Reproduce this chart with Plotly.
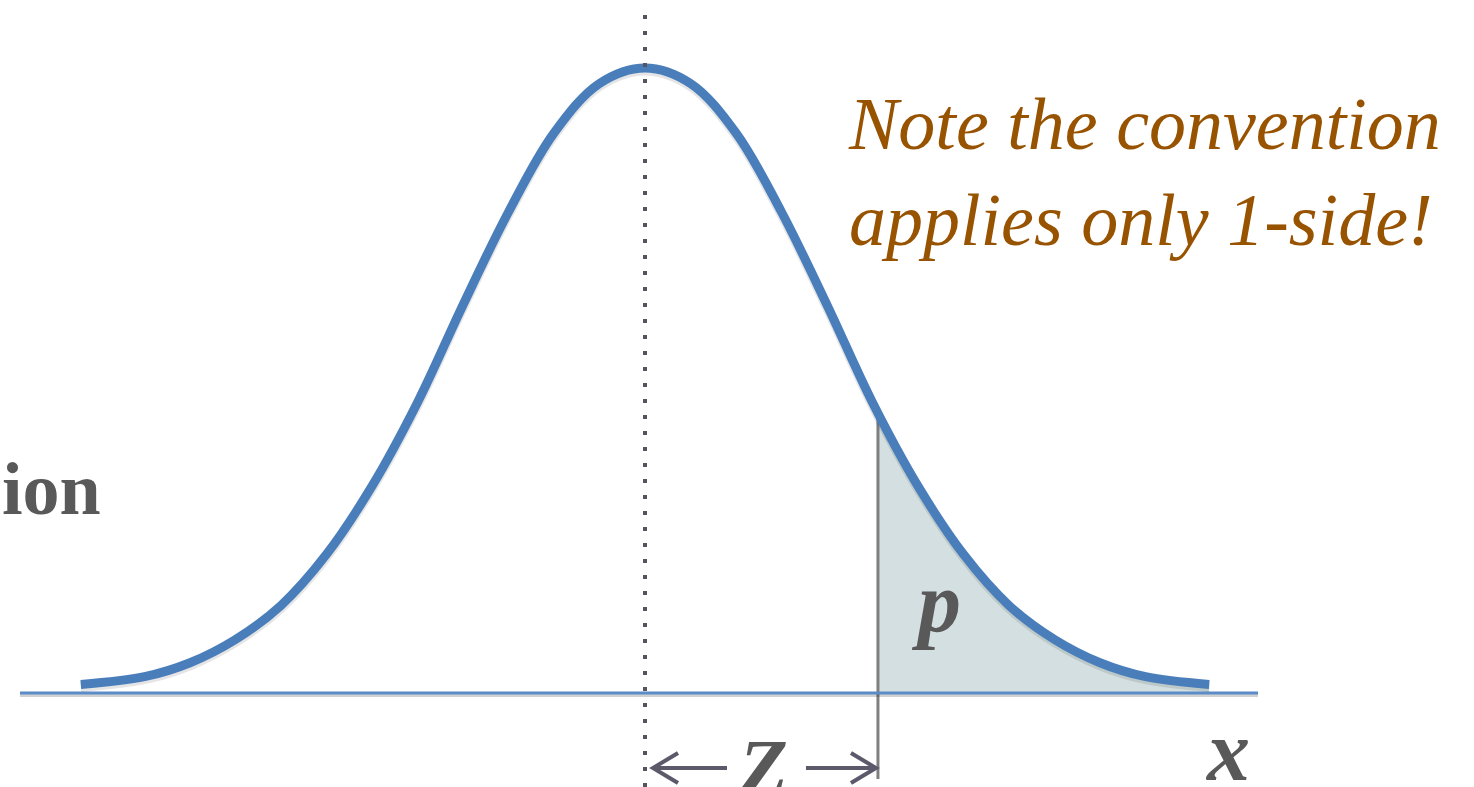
import plotly.graph_objects as go

# ---- data (z-score vs. relative density) ----
z_values = [-3.10, -2.75, -2.50, -2.25, -2.00, -1.75, -1.50, -1.25, -1.00, -0.75, -0.50, -0.25,
            0.00, 0.25, 0.50, 0.75, 1.00, 1.25, 1.50, 1.75, 2.00, 2.25, 2.50, 2.75, 3.10]
density = [0.001, 0.006, 0.015, 0.030, 0.052, 0.085, 0.129, 0.183, 0.246, 0.306, 0.357, 0.389,
           0.399, 0.389, 0.357, 0.306, 0.246, 0.183, 0.129, 0.085, 0.052, 0.030, 0.015, 0.006, 0.001]
z_cut = 1.28
density_at_cut = 0.174
mean = 0.0

note_lines = ["Note the convention", "applies only 1-side!"]
label_left = "ion"
label_p = "p"
label_x = "x"
label_z = "Z"

# ---- layout mapping (pixel helpers for placing annotations) ----
W, H = 1474, 787
PX_CENTER, PX_PER_Z = 645.0, 182.0
PY_ZERO, PY_PER_D = 686.0, 1549.0


def X(px):
    return (px - PX_CENTER) / PX_PER_Z


def Y(py):
    return (PY_ZERO - py) / PY_PER_D


base_y = Y(693)
CURVE = "#4a7ebb"
BASE = "#5b8bc8"
FILL = "#d3dfe0"
GRAY_TXT = "#595959"
ARROW = "#5c5a6a"
BROWN = "#985300"

fig = go.Figure()

# shaded tail area: baseline segment, then the tail curve filled down to it
tail_z = [z_cut] + [z for z in z_values if z > z_cut]
tail_d = [density_at_cut] + [d for z, d in zip(z_values, density) if z > z_cut]
fig.add_trace(go.Scatter(x=[tail_z[0], tail_z[-1]], y=[base_y, base_y], mode="lines",
                         line=dict(width=0), hoverinfo="skip"))
fig.add_trace(go.Scatter(x=tail_z, y=tail_d, mode="lines",
                         line=dict(width=0, shape="spline"), fill="tonexty",
                         fillcolor=FILL, hoverinfo="skip"))

# cut line (gray vertical)
fig.add_trace(go.Scatter(x=[z_cut, z_cut], y=[density_at_cut, Y(779)], mode="lines",
                         line=dict(color="#7f7f7f", width=3), hoverinfo="skip"))

# baseline shadow + baseline
fig.add_trace(go.Scatter(x=[X(20), X(1258)], y=[Y(695.5), Y(695.5)], mode="lines",
                         line=dict(color="rgba(0,0,0,0.18)", width=3), hoverinfo="skip"))
fig.add_trace(go.Scatter(x=[X(20), X(1258)], y=[base_y, base_y], mode="lines",
                         line=dict(color=BASE, width=3), hoverinfo="skip"))

# curve shadow + curve
fig.add_trace(go.Scatter(x=z_values, y=[d - 2.5 / PY_PER_D for d in density], mode="lines",
                         line=dict(color="rgba(0,0,0,0.10)", width=10, shape="spline"),
                         hoverinfo="skip"))
fig.add_trace(go.Scatter(x=z_values, y=density, mode="lines",
                         line=dict(color=CURVE, width=9, shape="spline"), hoverinfo="skip"))

# dotted mean line
fig.add_trace(go.Scatter(x=[mean, mean], y=[Y(15), Y(H)], mode="lines",
                         line=dict(color="#55555f", width=4, dash="4px,12px"), hoverinfo="skip"))

# arrows  <- Z ->
ay = Y(768)
hx, hy = 25 / PX_PER_Z, 15 / PY_PER_D
lt, ltail = mean + 8 / PX_PER_Z, mean + 82 / PX_PER_Z
rtail, rt = z_cut - 72 / PX_PER_Z, z_cut - 2 / PX_PER_Z
ax_pts = [ltail, lt, None, lt + hx, lt, lt + hx, None,
          rtail, rt, None, rt - hx, rt, rt - hx]
ay_pts = [ay, ay, None, ay + hy, ay, ay - hy, None,
          ay, ay, None, ay + hy, ay, ay - hy]
fig.add_trace(go.Scatter(x=ax_pts, y=ay_pts, mode="lines",
                         line=dict(color=ARROW, width=4), hoverinfo="skip"))

SERIF = "Liberation Serif"
ann = []
ann.append(dict(x=X(0), y=Y(489), xref="x", yref="y", xanchor="left", yanchor="middle",
                text="<b>" + label_left + "</b>", showarrow=False,
                font=dict(family=SERIF, size=74, color=GRAY_TXT)))
ann.append(dict(x=X(936), y=Y(602), xref="x", yref="y", xanchor="center", yanchor="middle",
                text="<b><i>" + label_p + "</i></b>", showarrow=False,
                font=dict(family=SERIF, size=86, color=GRAY_TXT)))
ann.append(dict(x=X(1227), y=Y(751), xref="x", yref="y", xanchor="center", yanchor="middle",
                text="<b><i>" + label_x + "</i></b>", showarrow=False,
                font=dict(family=SERIF, size=86, color=GRAY_TXT)))
ann.append(dict(x=(mean + z_cut) / 2 + 2 / PX_PER_Z, y=Y(768), xref="x", yref="y",
                xanchor="center", yanchor="middle",
                text="<b><i>" + label_z + "</i></b>", showarrow=False,
                font=dict(family=SERIF, size=80, color=GRAY_TXT)))
ann.append(dict(x=X(846), y=Y(172), xref="x", yref="y", xanchor="left", yanchor="middle",
                align="left", text="<i>" + "<br>".join(note_lines) + "</i>", showarrow=False,
                font=dict(family=SERIF, size=74, color=BROWN)))

fig.update_layout(
    width=W, height=H, margin=dict(l=0, r=0, t=0, b=0, pad=0),
    paper_bgcolor="white", plot_bgcolor="white", showlegend=False,
    xaxis=dict(range=[X(0), X(W)], visible=False, fixedrange=True),
    yaxis=dict(range=[Y(H), Y(0)], visible=False, fixedrange=True),
    annotations=ann,
)

fig.write_html("out.html", config={"displayModeBar": False},
               post_script="document.body.style.margin='0';document.body.style.overflow='hidden';")
